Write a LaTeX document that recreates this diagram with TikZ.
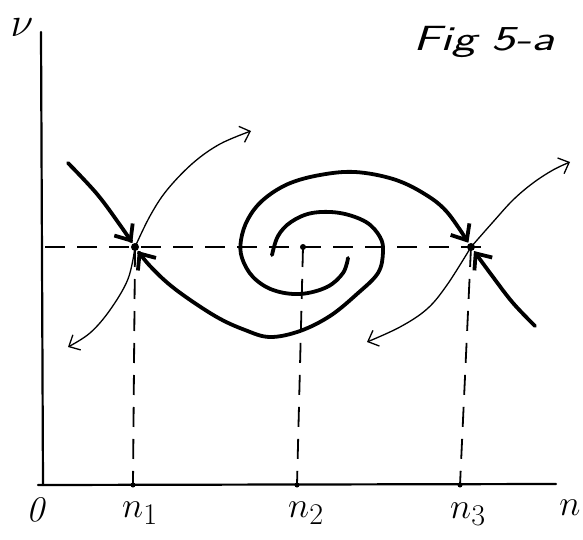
\documentclass[tikz,border=0pt]{standalone}
\usepackage{fontspec}
\usetikzlibrary{arrows.meta}
\begin{document}
\begin{tikzpicture}[x=1pt,y=-1pt,
  axis/.style={line width=2.2pt, line cap=round},
  guide/.style={line width=1.8pt, dash pattern=on 20pt off 12pt},
  traj/.style={line width=3.8pt, line cap=round, line join=round,
    -{Straight Barb[length=13pt,width=22pt]}, shorten >=5pt},
  thin/.style={line width=1.3pt, line cap=round,
    -{Straight Barb[length=9pt,width=17pt]}},
  eq/.style={circle, fill=black, inner sep=0pt, minimum size=8pt},
  tick/.style={circle, fill=black, inner sep=0pt, minimum size=5pt},
  lab/.style={inner sep=0pt, font=\Huge, scale=1.45},
]
\useasboundingbox (0,0) rectangle (583,540);

% axes
\coordinate (otop) at (41,32);
\coordinate (o) at (43,485);
\coordinate (xend) at (556,484);
\draw[axis] (otop) -- (o);
\draw[axis] (38,485) -- (xend);

% equilibria and axis points
\node[eq] (n1) at (135,247) {};
\node[eq, minimum size=6pt] (n2) at (303,247) {};
\node[eq] (n3) at (471,247) {};
\node[tick] (a1) at (133,485) {};
\node[tick] (a2) at (297,485) {};
\node[tick] (a3) at (460,485) {};
\coordinate (hl) at (45,247);
\coordinate (hr) at (493,247);

% dashed guides
\draw[guide] (hl) -- (hr);
\draw[guide] (n1.center) -- (a1.center);
\draw[guide] (n2.center) -- (a2.center);
\draw[guide] (n3.center) -- (a3.center);

% thick trajectories (stable manifolds)
\draw[traj] plot[smooth, tension=0.6] coordinates {(68,163) (97,194) (120,225) (n1.center)};
\draw[traj] plot[smooth, tension=0.6] coordinates {(272,255) (278,236) (291,222) (312,213) (340,213) (366,222) (380,237) (383,252) (378,273) (357,294) (330,316) (300,331) (270,337) (245,330) (215,316) (175,289) (150,266) (n1.center)};
\draw[traj] plot[smooth, tension=0.6] coordinates {(348,258) (343,273) (327,287) (300,294) (273,290) (253,277) (242,258) (241,240) (248,219) (263,200) (288,184) (320,175) (355,172) (393,179) (423,193) (447,212) (n3.center)};
\draw[traj] plot[smooth, tension=0.6] coordinates {(535,326) (513,303) (493,277) (n3.center)};

% thin trajectories (unstable manifolds)
\draw[thin] plot[smooth, tension=0.6] coordinates {(n1.center) (150,216) (167,190) (193,163) (220,144) (251,131)};
\draw[thin] plot[smooth, tension=0.6] coordinates {(n1.center) (128,279) (110,310) (90,333) (68,347)};
\draw[thin] plot[smooth, tension=0.6] coordinates {(n3.center) (493,222) (513,200) (533,183) (553,170) (570,162)};
\draw[thin] plot[smooth, tension=0.6] coordinates {(n3.center) (447,285) (427,309) (400,327) (367,342)};

% labels
\node[lab, scale=1.15] (vlab) at (22,28) {$\nu$};
\node[inner sep=0pt, xscale=1.45, font=\fontsize{35}{40}\selectfont\sffamily\itshape] (title) at (484,42) {Fig 5-a};
\node[lab] (l0) at (36,510) {\textit{0}};
\node[lab] (l1) at (140,513) {$n_{1}$};
\node[lab] (l2) at (306,513) {$n_{2}$};
\node[lab] (l3) at (468,514) {$n_{3}$};
\node[lab] (ln) at (570,508) {$n$};
\end{tikzpicture}
\end{document}
